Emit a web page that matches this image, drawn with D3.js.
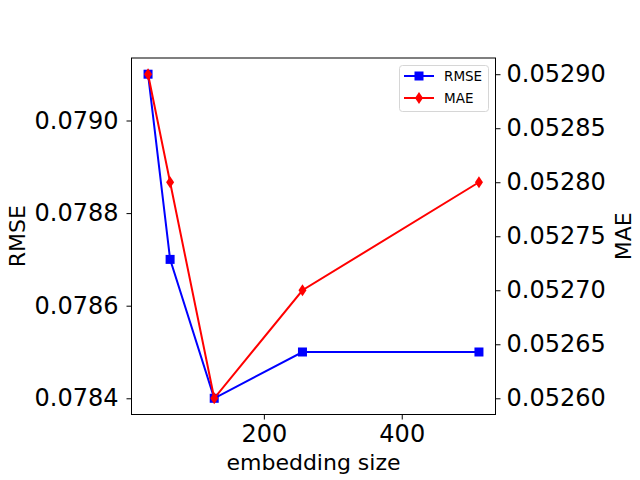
<!DOCTYPE html>
<html>
<head>
<meta charset="utf-8">
<script src="https://cdn.jsdelivr.net/npm/d3@7"></script>
<style>
body { margin: 0; background: #fff; }
svg { font-family: "DejaVu Sans", sans-serif; }
</style>
</head>
<body>
<div id="chart"></div>
<script>
var width = 640;
var height = 480;

// data
var embeddingSize = [32, 64, 128, 256, 512];
var rmse = [0.0791, 0.0787, 0.0784, 0.0785, 0.0785];
var mae = [0.0529, 0.0528, 0.0526, 0.0527, 0.0528];
var xTicks = [200, 400];
var rmseTicks = [0.0784, 0.0786, 0.0788, 0.0790];
var maeTicks = [0.05260, 0.05265, 0.05270, 0.05275, 0.05280, 0.05285, 0.05290];

// plot box ("top" is taken by window.top, so prefix)
var boxLeft = 131.5, boxRight = 495.5, boxTop = 58, boxBottom = 414.5;

var svg = d3.select("#chart").append("svg")
    .attr("width", width)
    .attr("height", height);

// 5% margins like matplotlib
function pad(ext){
    var m = (ext[1] - ext[0]) * 0.05;
    return [ext[0] - m, ext[1] + m];
}

var x = d3.scaleLinear().domain(pad(d3.extent(embeddingSize))).range([boxLeft, boxRight]);
var yL = d3.scaleLinear().domain(pad(d3.extent(rmse))).range([boxBottom, boxTop]);
var yR = d3.scaleLinear().domain(pad(d3.extent(mae))).range([boxBottom, boxTop]);

var tickFont = "24px";

var xAxis = svg.append("g")
    .attr("transform", "translate(0," + boxBottom + ")")
    .call(d3.axisBottom(x).tickValues(xTicks).tickSizeInner(5).tickSizeOuter(0).tickPadding(4).tickFormat(d3.format("d")));

var lAxis = svg.append("g")
    .attr("transform", "translate(" + boxLeft + ",0)")
    .call(d3.axisLeft(yL).tickValues(rmseTicks).tickSizeInner(5).tickSizeOuter(0).tickPadding(8).tickFormat(d3.format(".4f")));

var rAxis = svg.append("g")
    .attr("transform", "translate(" + boxRight + ",0)")
    .call(d3.axisRight(yR).tickValues(maeTicks).tickSizeInner(5).tickSizeOuter(0).tickPadding(6).tickFormat(d3.format(".5f")));

[xAxis, lAxis, rAxis].forEach(function(g){
    g.select(".domain").remove();
    g.selectAll("text").attr("font-size", tickFont).attr("fill", "#000").attr("font-family", "DejaVu Sans");
    g.selectAll("line").attr("stroke", "#000").attr("stroke-width", 1);
});
xAxis.selectAll("text").attr("dy", "0.75em");

// frame
svg.append("rect")
    .attr("x", boxLeft)
    .attr("y", boxTop)
    .attr("width", boxRight - boxLeft)
    .attr("height", boxBottom - boxTop)
    .attr("fill", "none")
    .attr("stroke", "#000")
    .attr("stroke-width", 1);

// axis labels
svg.append("text")
    .attr("x", (boxLeft + boxRight) / 2)
    .attr("y", 470)
    .attr("text-anchor", "middle")
    .attr("font-size", "22px")
    .text("embedding size");

svg.append("text")
    .attr("transform", "translate(17," + (boxTop + boxBottom) / 2 + ") rotate(-90)")
    .attr("text-anchor", "middle")
    .attr("dy", "0.35em")
    .attr("font-size", "22px")
    .text("RMSE");

svg.append("text")
    .attr("transform", "translate(623," + (boxTop + boxBottom) / 2 + ") rotate(-90)")
    .attr("text-anchor", "middle")
    .attr("dy", "0.35em")
    .attr("font-size", "22px")
    .text("MAE");

// lines
var lineL = d3.line()
    .x(function(d, i){ return x(embeddingSize[i]); })
    .y(function(d){ return yL(d); });
var lineR = d3.line()
    .x(function(d, i){ return x(embeddingSize[i]); })
    .y(function(d){ return yR(d); });

svg.append("path")
    .attr("d", lineL(rmse))
    .attr("fill", "none")
    .attr("stroke", "#0000ff")
    .attr("stroke-width", 2);

svg.selectAll(".sq")
    .data(rmse)
    .enter()
    .append("rect")
        .attr("class", "sq")
        .attr("x", function(d, i){ return x(embeddingSize[i]) - 4.5; })
        .attr("y", function(d){ return yL(d) - 4.5; })
        .attr("width", 9)
        .attr("height", 9)
        .attr("fill", "#0000ff");

svg.append("path")
    .attr("d", lineR(mae))
    .attr("fill", "none")
    .attr("stroke", "#ff0000")
    .attr("stroke-width", 2);

var diamond = "M0,-6L4,0L0,6L-4,0Z";

svg.selectAll(".dm")
    .data(mae)
    .enter()
    .append("path")
        .attr("class", "dm")
        .attr("d", diamond)
        .attr("transform", function(d, i){ return "translate(" + x(embeddingSize[i]) + "," + yR(d) + ")"; })
        .attr("fill", "#ff0000");

// legend
var leg = svg.append("g");
leg.append("rect")
    .attr("x", 399.5)
    .attr("y", 65.5)
    .attr("width", 89)
    .attr("height", 46)
    .attr("rx", 3)
    .attr("fill", "#fff")
    .attr("fill-opacity", 0.8)
    .attr("stroke", "#d6d6d6");

var legItems = [
    {name: "RMSE", color: "#0000ff", marker: "sq"},
    {name: "MAE", color: "#ff0000", marker: "dm"}
];
legItems.forEach(function(d, i){
    var cy = 76 + i * 22;
    leg.append("line")
        .attr("x1", 404).attr("x2", 434)
        .attr("y1", cy).attr("y2", cy)
        .attr("stroke", d.color)
        .attr("stroke-width", 2);
    if(d.marker == "sq"){
        leg.append("rect")
            .attr("x", 414.5).attr("y", cy - 4.5)
            .attr("width", 9).attr("height", 9)
            .attr("fill", d.color);
    } else {
        leg.append("path")
            .attr("d", diamond)
            .attr("transform", "translate(419," + cy + ")")
            .attr("fill", d.color);
    }
    leg.append("text")
        .attr("x", 444)
        .attr("y", cy)
        .attr("dy", "0.35em")
        .attr("font-size", "13.5px")
        .text(d.name);
});
</script>
</body>
</html>
